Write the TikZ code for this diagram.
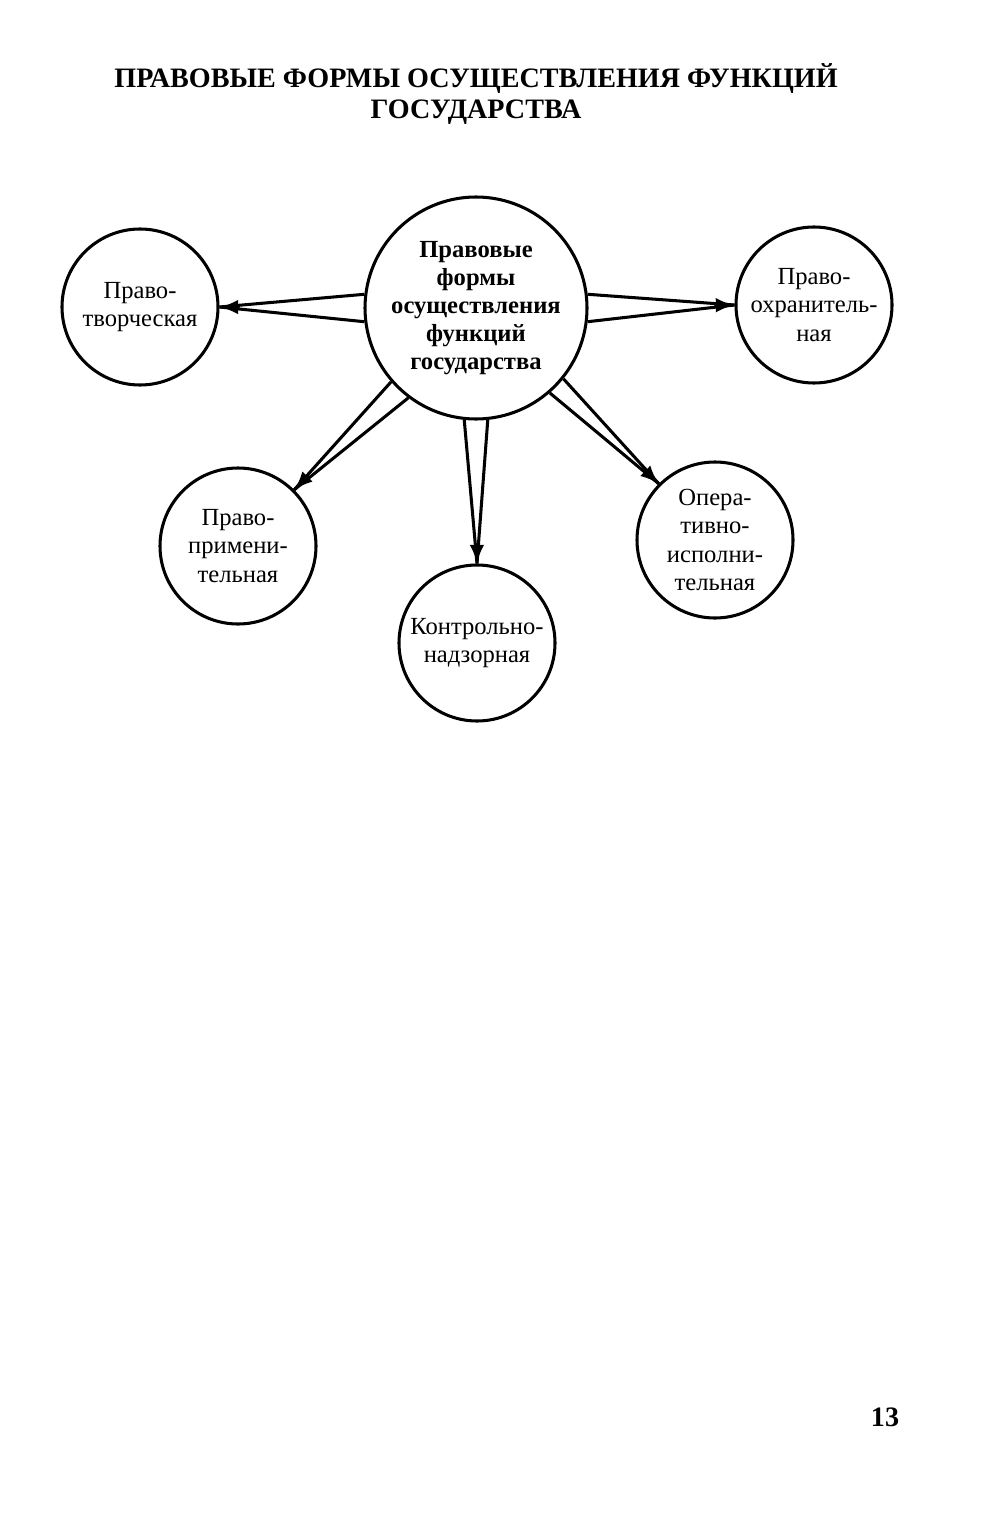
\documentclass[tikz,border=0pt]{standalone}
\usepackage{fontspec}
\setmainfont{Liberation Serif}
\usetikzlibrary{arrows.meta,calc}

\begin{document}
\begin{tikzpicture}[x=0.015cm, y=-0.015cm, line width=1.3pt,
        every node/.style={draw, circle, align=center, inner sep=0pt, font=\fontsize{10.5}{12}\selectfont},
        big/.style={minimum size=3.33cm},
        small/.style={minimum size=2.34cm}]
        \useasboundingbox (0,0) rectangle (1000,1516);
        \node[draw=none, font=\fontsize{12}{13.6}\selectfont\bfseries] (title) at (476,94)
            {ПРАВОВЫЕ ФОРМЫ ОСУЩЕСТВЛЕНИЯ ФУНКЦИЙ\\ГОСУДАРСТВА};
        \node[big, font=\fontsize{10.5}{12}\selectfont\bfseries] (c) at (476,308)
            {Правовые\\формы\\осуществления\\функций\\государства};
        \node[small] (tv) at (140,307) {Право-\\творческая};
        \node[small] (ohr) at (814,305) {Право-\\охранитель-\\ная};
        \node[small] (prim) at (238,546) {Право-\\примени-\\тельная};
        \node[small] (kontr) at (477,643) {Контрольно-\\надзорная};
        \node[small] (oper) at (715,540) {Опера-\\тивно-\\исполни-\\тельная};
        \node[draw=none, font=\fontsize{12}{14}\selectfont\bfseries] (page) at (885,1417) {13};
        % wedges from the centre to every form
        \foreach \t/\a/\b/\d in {tv/173/187/0, ohr/7/353/180, prim/221/233/45, kontr/264/276/90, oper/311/321/135} {
            \draw (c.\a) -- (\t.\d);
            \draw (c.\b) -- (\t.\d);
            \draw[-{Latex[length=2.8mm,width=2.2mm]}] ($(\t.\d)!3mm!(c)$) -- (\t.\d);
        }
    \end{tikzpicture}
\end{document}
